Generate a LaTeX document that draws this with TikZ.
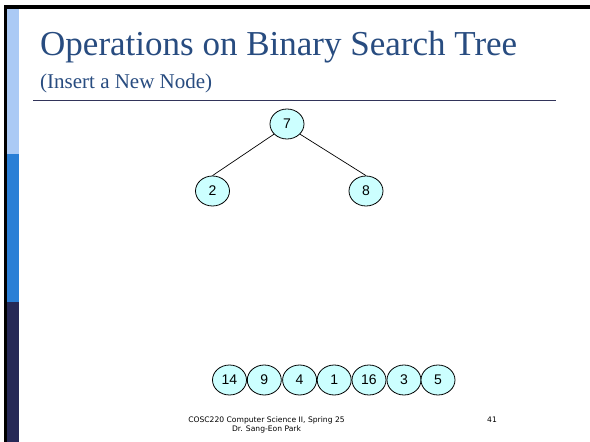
\documentclass[tikz,border=0pt]{standalone}
\usepackage{fontspec}
\setmainfont{Liberation Serif}
\newfontfamily\nodefont{Liberation Sans}
\newfontfamily\footfont{DejaVu Sans}
\usetikzlibrary{shapes.geometric}
\definecolor{titleblue}{RGB}{40,76,128}
\definecolor{rulenavy}{RGB}{50,52,90}
\definecolor{barlight}{RGB}{171,202,245}
\definecolor{barmid}{RGB}{42,127,214}
\definecolor{bardark}{RGB}{38,41,87}
\definecolor{nodecyan}{RGB}{204,255,255}
\tikzset{
  bstnode/.style={ellipse, draw=black, line width=0.8pt, fill=nodecyan,
    minimum width=34pt, minimum height=30pt, inner sep=0pt,
    font=\nodefont\fontsize{14}{16}\selectfont},
  treeedge/.style={draw=black, line width=0.7pt},
  foottext/.style={font=\footfont\fontsize{7.6}{9}\selectfont, align=center, inner sep=0pt}
}
\begin{document}
\begin{tikzpicture}[x=1pt,y=-1pt]
\useasboundingbox (0,0) rectangle (590,442);
\fill[white] (0,0) rectangle (590,442);
% frame
\fill[black] (4,5) rectangle (590,9);
\fill[black] (4,5) rectangle (6.7,442);
% side bar
\fill[barlight] (6.7,9) rectangle (19,154);
\fill[barmid] (6.7,154) rectangle (19,302);
\fill[bardark] (6.7,302) rectangle (19,442);
% title
\node[anchor=base west, inner sep=0pt, text=titleblue] (title) at (40,55)
  {\resizebox{477pt}{!}{\fontsize{36}{40}\selectfont Operations on Binary Search Tree}};
\node[anchor=base west, inner sep=0pt, text=titleblue, font=\fontsize{21}{24}\selectfont] (subtitle) at (40,88)
  {(Insert a New Node)};
\coordinate (ruleL) at (33,100);
\coordinate (ruleR) at (556,100);
\draw[rulenavy, line width=1pt] (ruleL) -- (ruleR);
% tree
\node[bstnode] (n7) at (287,124) {7};
\node[bstnode] (n2) at (212.5,191) {2};
\node[bstnode] (n8) at (366,191) {8};
\draw[treeedge] (n7.218) -- (n2.north);
\draw[treeedge] (n7.322) -- (n8.north);
% keys to insert
\node[bstnode] (k14) at (229.5,380) {14};
\node[bstnode] (k9) at (264.3,380) {9};
\node[bstnode] (k4) at (299.6,380) {4};
\node[bstnode] (k1) at (334.2,380) {1};
\node[bstnode] (k16) at (369,380) {16};
\node[bstnode] (k3) at (404,380) {3};
\node[bstnode] (k5) at (438,380) {5};
% footer
\node[foottext] (foot) at (266.5,425) {COSC220 Computer Science II, Spring 25\\Dr. Sang-Eon Park};
\node[foottext] (page) at (492,419.5) {41};
\end{tikzpicture}
\end{document}
